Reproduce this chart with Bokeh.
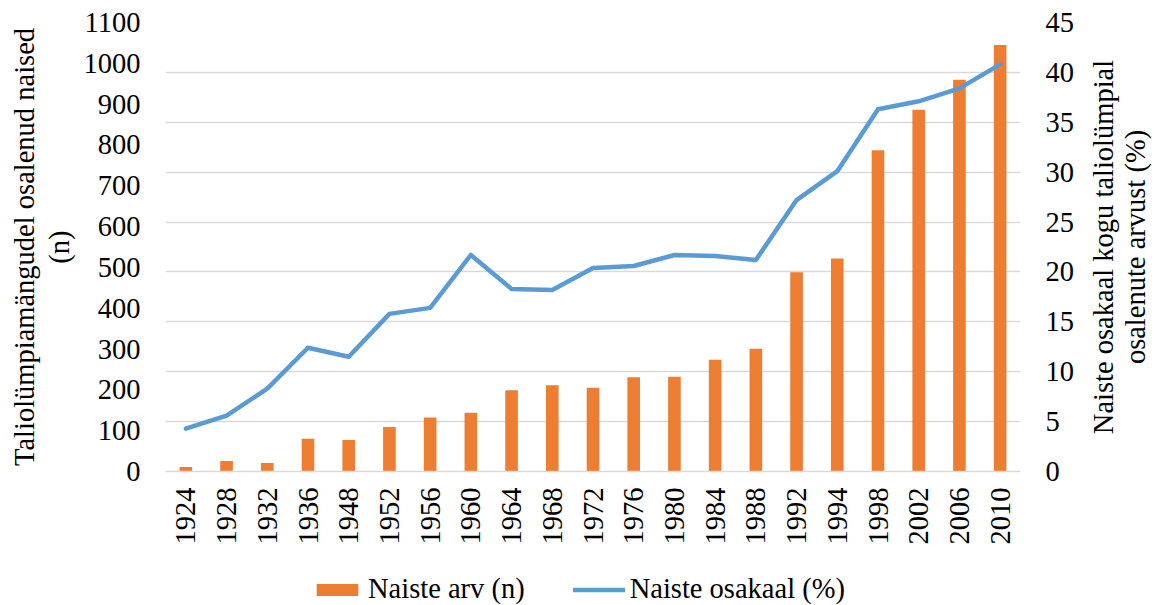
import math
from bokeh.plotting import figure
from bokeh.layouts import column, row
from bokeh.models import (Range1d, LinearAxis, FixedTicker, Grid, Legend, LegendItem)
from bokeh.core.properties import value
from bokeh.embed import file_html
from bokeh.resources import INLINE

years = ["1924", "1928", "1932", "1936", "1948", "1952", "1956", "1960", "1964", "1968",
         "1972", "1976", "1980", "1984", "1988", "1992", "1994", "1998", "2002", "2006", "2010"]
women_count = [11, 26, 21, 80, 77, 109, 132, 144, 199, 211,
               205, 231, 232, 274, 301, 488, 522, 787, 886, 960, 1045]
women_share = [4.3, 5.6, 8.3, 12.4, 11.5, 15.8, 16.4, 21.7, 18.3, 18.2,
               20.4, 20.6, 21.7, 21.6, 21.2, 27.2, 30.1, 36.3, 37.1, 38.4, 40.8]
left_ticks = [0, 100, 200, 300, 400, 500, 600, 700, 800, 900, 1000, 1100]
right_ticks = [0, 5, 10, 15, 20, 25, 30, 35, 40, 45]
left_title = "Taliolümpiamängudel osalenud naised\n(n)"
right_title_lines = ["Naiste osakaal kogu taliolümpial", "osalenute arvust (%)"]
legend_labels = ["Naiste arv (n)", "Naiste osakaal (%)"]

FONT = "Liberation Serif"
FS = "28.5px"
ORANGE = "#ED7D31"
BLUE = "#5B9BD5"
GRID = "#d9d9d9"

MAIN_W, MAIN_H = 1090, 560
RIGHT_W = 66
LEG_H = 45

# ---------------- main chart ----------------
p = figure(x_range=years, y_range=Range1d(0, 1100), width=MAIN_W, height=MAIN_H,
           output_backend="svg", toolbar_location=None,
           min_border_left=165, min_border_right=70, min_border_top=22, min_border_bottom=89)
p.extra_y_ranges = {"pct": Range1d(0, 45)}
p.outline_line_color = None
p.xgrid.visible = False
p.ygrid.visible = False

right_ticker = FixedTicker(ticks=right_ticks)
grid = Grid(dimension=1, ticker=right_ticker, y_range_name="pct",
            grid_line_color=GRID, grid_line_width=1.5)
p.add_layout(grid, "center")

bars = p.vbar(x=years, top=women_count, width=0.31, fill_color=ORANGE, line_color=None)
line = p.line(x=years, y=women_share, y_range_name="pct", line_width=4.5, line_color=BLUE,
              line_join="round", line_cap="round")

ya = p.yaxis[0]
ya.ticker = FixedTicker(ticks=left_ticks)
ya.axis_line_color = None
ya.major_tick_line_color = None
ya.minor_tick_line_color = None
ya.major_tick_out = 0
ya.minor_tick_out = 0
ya.major_label_text_font = FONT
ya.major_label_text_font_size = FS
ya.major_label_text_color = "black"
ya.major_label_standoff = 25
ya.axis_label = left_title
ya.axis_label_text_font = FONT
ya.axis_label_text_font_size = FS
ya.axis_label_text_font_style = "normal"
ya.axis_label_text_color = "black"
ya.axis_label_text_line_height = 1.1
ya.axis_label_standoff = 6

ra = LinearAxis(y_range_name="pct", ticker=right_ticker)
ra.axis_line_color = None
ra.major_tick_line_color = None
ra.minor_tick_line_color = None
ra.major_tick_out = 0
ra.minor_tick_out = 0
ra.major_label_text_font = FONT
ra.major_label_text_font_size = FS
ra.major_label_text_color = "black"
ra.major_label_standoff = 25
p.add_layout(ra, "right")

xa = p.xaxis[0]
xa.axis_line_color = GRID
xa.axis_line_width = 1.5
xa.major_tick_line_color = None
xa.minor_tick_line_color = None
xa.major_tick_out = 0
xa.minor_tick_out = 0
xa.major_label_orientation = math.pi / 2
xa.major_label_text_font = FONT
xa.major_label_text_font_size = FS
xa.major_label_text_color = "black"
xa.major_label_standoff = 16

# ---------------- right axis title (reads bottom-to-top) ----------------
r = figure(width=RIGHT_W, height=MAIN_H, x_range=Range1d(0, RIGHT_W), y_range=Range1d(0, MAIN_H),
           output_backend="svg", toolbar_location=None,
           x_axis_location=None, y_axis_location=None, min_border=0)
r.outline_line_color = None
r.grid.visible = False
r.text(x=[13, 45], y=[280, 280], text=right_title_lines,
       angle=math.pi / 2, text_align="center", text_baseline="middle",
       text_font=value(FONT), text_font_size=value(FS), text_color="black")

# ---------------- legend strip ----------------
lf = figure(width=MAIN_W + RIGHT_W, height=LEG_H, x_range=years, y_range=Range1d(-2, -1),
            output_backend="svg", toolbar_location=None,
            x_axis_location=None, y_axis_location=None, min_border=0)
lf.outline_line_color = None
lf.grid.visible = False
# hidden proxies: they only lend their style to the legend
lb = lf.vbar(x=years, bottom=women_count, top=women_count, width=0.31,
             fill_color=ORANGE, line_color=None)
ll = lf.line(x=years, y=women_share, line_width=4.5, line_color=BLUE, line_cap="round")
lb.visible = False
ll.visible = False
legend = Legend(items=[LegendItem(label=legend_labels[0], renderers=[lb]),
                       LegendItem(label=legend_labels[1], renderers=[ll])],
                orientation="horizontal", location=(311, 0),
                label_text_font=FONT, label_text_font_size=FS, label_text_color="black",
                glyph_width=52, glyph_height=15, label_standoff=5, spacing=48,
                border_line_color=None, background_fill_alpha=0, padding=2, margin=0,
                inactive_fill_alpha=0)
lf.add_layout(legend, "center")

layout = column(row(p, r), lf)
open("out.html", "w").write(file_html(layout, INLINE))
